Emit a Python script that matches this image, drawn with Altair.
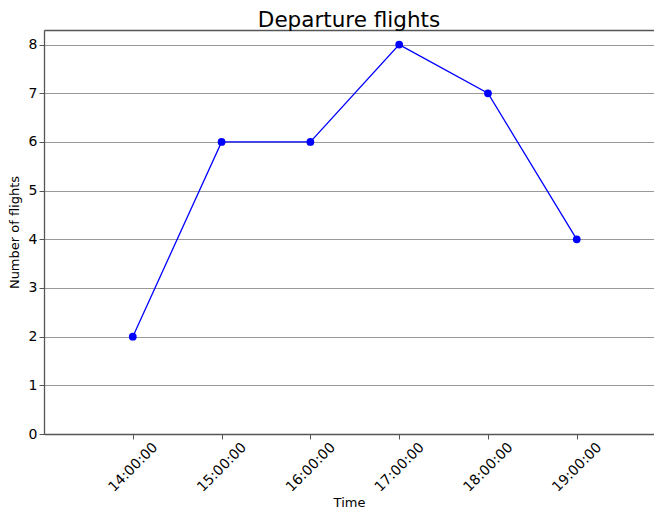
import altair as alt
import pandas as pd

hours = [14, 15, 16, 17, 18, 19]
time_labels = ["14:00:00", "15:00:00", "16:00:00", "17:00:00", "18:00:00", "19:00:00"]
flights = [2, 6, 6, 8, 7, 4]

df = pd.DataFrame({"hour": hours, "label": time_labels, "flights": flights})

FONT = "DejaVu Sans"
xscale = alt.Scale(domain=[13, 19.87], nice=False, zero=False)
yscale = alt.Scale(domain=[0, 8.3], nice=False)

base = alt.Chart(df)

xaxis = alt.Axis(
    values=hours,
    labelExpr="datum.value + ':00:00'",
    labelAngle=-45,
    labelAlign="center",
    labelBaseline="middle",
    labelPadding=28,
    grid=False,
    title="Time",
    titleY=72,
    titleBaseline="alphabetic",
    domainColor="#555555",
    domainWidth=1.3,
    tickColor="#555555",
    tickSize=5,
)
yaxis = alt.Axis(
    values=list(range(0, 9)),
    grid=True,
    gridColor="#999999",
    gridWidth=1,
    title="Number of flights",
    titlePadding=7,
    domainColor="#555555",
    domainWidth=1.3,
    tickColor="#555555",
    tickSize=5,
    labelPadding=2,
)

line = base.mark_line(color="#0000ff", strokeWidth=1.3).encode(
    x=alt.X("hour:Q", scale=xscale, axis=xaxis),
    y=alt.Y("flights:Q", scale=yscale, axis=yaxis),
)
points = base.mark_circle(color="#0000ff", opacity=1, size=60).encode(
    x=alt.X("hour:Q", scale=xscale, axis=None),
    y=alt.Y("flights:Q", scale=yscale),
)
top = base.mark_point(opacity=0).encode(
    x=alt.X("hour:Q", scale=xscale,
            axis=alt.Axis(orient="top", labels=False, ticks=False, title=None,
                          grid=False, domainColor="#555555", domainWidth=1.3)),
    y=alt.Y("flights:Q", scale=yscale),
)

chart = (
    alt.layer(line, points, top)
    .resolve_axis(x="independent")
    .properties(
        width=610,
        height=404,
        title=alt.TitleParams("Departure flights", fontSize=21.5, font=FONT,
                              fontWeight="normal", color="black", offset=1, dy=2),
        autosize=alt.AutoSizeParams(type="none"),
        padding={"left": 36, "top": 22, "right": 0, "bottom": 75},
    )
    .configure_view(stroke=None)
    .configure_axis(labelFont=FONT, titleFont=FONT, labelFontSize=14,
                    titleFontSize=13, labelColor="black", titleColor="black",
                    titleFontWeight="normal")
)

chart.save("out.html", embed_options={"renderer": "svg", "actions": False})
